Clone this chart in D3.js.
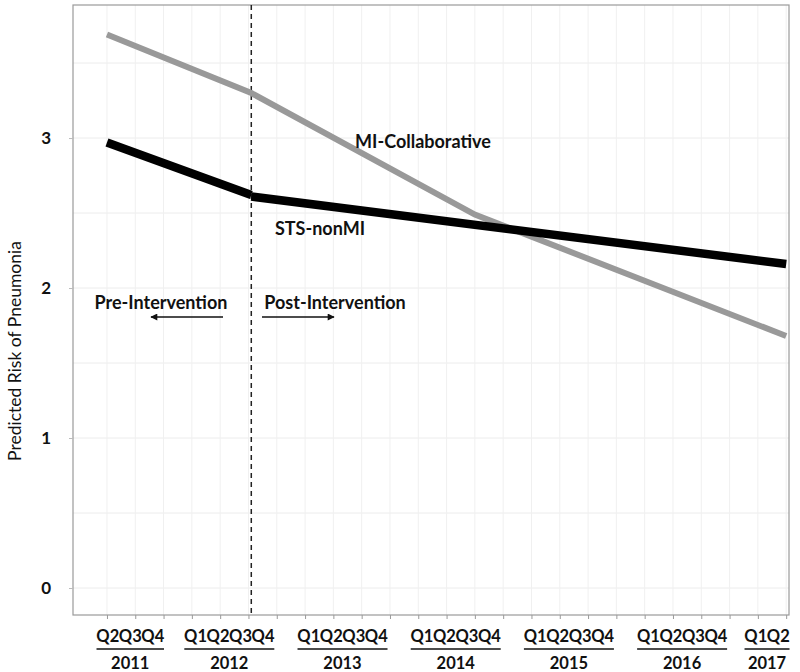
<!DOCTYPE html>
<html>
<head>
<meta charset="utf-8">
<script src="https://cdn.jsdelivr.net/npm/d3@7"></script>
<style>
  html, body { margin: 0; padding: 0; background: #fff; }
  svg { display: block; font-family: Lato, "Open Sans", sans-serif; }
</style>
</head>
<body>
<svg id="chart" width="800" height="672"></svg>
<script>
// ---- data ----
const years = ["2011", "2012", "2013", "2014", "2015", "2016", "2017"];
const yearQuarters = [
  ["Q2", "Q3", "Q4"],
  ["Q1", "Q2", "Q3", "Q4"],
  ["Q1", "Q2", "Q3", "Q4"],
  ["Q1", "Q2", "Q3", "Q4"],
  ["Q1", "Q2", "Q3", "Q4"],
  ["Q1", "Q2", "Q3", "Q4"],
  ["Q1", "Q2"]
];
const yTicks = [0, 1, 2, 3];
const yGrid = [0, 0.5, 1, 1.5, 2, 2.5, 3, 3.5];
// quarter index: 0 = 2011 Q2
const interventionAt = 5.1;
const miCollabX = [0, 5.1, 13, 24];
const miCollabY = [3.69, 3.30, 2.49, 1.68];
const stsPreX = [0, 5.1];
const stsPreY = [2.97, 2.62];
const stsPostX = [5.1, 24];
const stsPostY = [2.61, 2.16];
const seriesNames = ["MI-Collaborative", "STS-nonMI"];
const phaseNames = ["Pre-Intervention", "Post-Intervention"];
const yTitle = "Predicted Risk of Pneumonia";

// ---- layout ----
const svg = d3.select("#chart");
const L = 73, R = 789, T = 5, B = 615;
const x = d3.scaleLinear().domain([-1.2, 24.1]).range([L, R]);
const y = d3.scaleLinear().domain([-0.18, 3.887]).range([B, T]);
const nQuarters = d3.sum(yearQuarters, q => q.length);
const quarterIdx = d3.range(nQuarters);
const labelFont = 18;

svg.append("rect").attr("width", 800).attr("height", 672).attr("fill", "#fff");

// grid
svg.append("g").selectAll("line").data(yGrid).join("line")
  .attr("x1", L).attr("x2", R).attr("y1", d => y(d)).attr("y2", d => y(d))
  .attr("stroke", "#ececec").attr("stroke-width", 1);
svg.append("g").selectAll("line").data(quarterIdx).join("line")
  .attr("x1", d => x(d)).attr("x2", d => x(d)).attr("y1", T).attr("y2", B)
  .attr("stroke", "#f0f0f0").attr("stroke-width", 1);

// frame
svg.append("rect").attr("x", L).attr("y", T).attr("width", R - L).attr("height", B - T)
  .attr("fill", "none").attr("stroke", "#9a9a9a").attr("stroke-width", 1.2);

// axes ticks
const xAxis = d3.axisBottom(x).tickValues(quarterIdx).tickSize(4).tickFormat("");
const gx = svg.append("g").attr("transform", `translate(0,${B})`).call(xAxis);
gx.select(".domain").remove();
gx.selectAll(".tick line").attr("stroke", "#999");

const yAxis = d3.axisLeft(y).tickValues(yTicks).tickSize(4).tickFormat(d3.format("d")).tickPadding(18);
const gy = svg.append("g").attr("transform", `translate(${L},0)`).call(yAxis);
gy.select(".domain").remove();
gy.selectAll(".tick line").attr("stroke", "#bbb");
gy.selectAll(".tick text").attr("font-family", "Lato, sans-serif").attr("font-size", 17)
  .attr("font-weight", "bold").attr("fill", "#111");

// y title
svg.append("text")
  .attr("transform", `translate(21,${y(1.58)}) rotate(-90)`)
  .attr("text-anchor", "middle").attr("font-size", 17.5).attr("fill", "#111")
  .text(yTitle);

// x labels grouped by year
let start = 0;
const qSpacing = 22.5;
years.forEach((yr, i) => {
  const qs = yearQuarters[i];
  const cx = x(start + (qs.length - 1) / 2) - 5;
  const g = svg.append("g");
  g.selectAll("text").data(qs).join("text")
    .attr("x", (d, j) => cx + (j - (qs.length - 1) / 2) * qSpacing)
    .attr("y", 642).attr("text-anchor", "middle")
    .attr("font-size", 16.5).attr("font-weight", "bold").attr("fill", "#111")
    .text(d => d);
  const w = qs.length * qSpacing;
  g.append("line").attr("x1", cx - w / 2).attr("x2", cx + w / 2)
    .attr("y1", 649).attr("y2", 649).attr("stroke", "#111").attr("stroke-width", 1.5);
  g.append("text").attr("x", cx).attr("y", 669).attr("text-anchor", "middle")
    .attr("font-size", 16.5).attr("font-weight", "bold").attr("fill", "#111").text(yr);
  start += qs.length;
});

// intervention line
svg.append("line").attr("x1", x(interventionAt)).attr("x2", x(interventionAt))
  .attr("y1", T).attr("y2", B).attr("stroke", "#222").attr("stroke-width", 1.5)
  .attr("stroke-dasharray", "5,4");

// series lines
const line = d3.line().x(d => x(d[0])).y(d => y(d[1]));
svg.append("path").datum(d3.zip(miCollabX, miCollabY)).attr("d", line)
  .attr("fill", "none").attr("stroke", "#999").attr("stroke-width", 6);
svg.append("path").datum(d3.zip(stsPreX, stsPreY)).attr("d", line)
  .attr("fill", "none").attr("stroke", "#000").attr("stroke-width", 8.5);
svg.append("path").datum(d3.zip(stsPostX, stsPostY)).attr("d", line)
  .attr("fill", "none").attr("stroke", "#000").attr("stroke-width", 8.5);

// series labels
svg.append("text").attr("x", 423).attr("y", 148).attr("text-anchor", "middle")
  .attr("font-size", labelFont).attr("font-weight", "bold").attr("fill", "#111").text(seriesNames[0]);
svg.append("text").attr("x", 320).attr("y", 235).attr("text-anchor", "middle")
  .attr("font-size", labelFont).attr("font-weight", "bold").attr("fill", "#111").text(seriesNames[1]);

// phase labels & arrows
svg.append("defs").append("marker").attr("id", "ah").attr("viewBox", "0 0 10 10")
  .attr("refX", 9).attr("refY", 5).attr("markerWidth", 9).attr("markerHeight", 7)
  .attr("markerUnits", "userSpaceOnUse").attr("orient", "auto")
  .append("path").attr("d", "M0,0 L10,5 L0,10 Z").attr("fill", "#111");
svg.append("text").attr("x", 161).attr("y", 309).attr("text-anchor", "middle")
  .attr("font-size", labelFont).attr("font-weight", "bold").attr("fill", "#111").text(phaseNames[0]);
svg.append("text").attr("x", 335).attr("y", 309).attr("text-anchor", "middle")
  .attr("font-size", labelFont).attr("font-weight", "bold").attr("fill", "#111").text(phaseNames[1]);
svg.append("line").attr("x1", 223).attr("x2", 151).attr("y1", 317).attr("y2", 317)
  .attr("stroke", "#111").attr("stroke-width", 1.5).attr("marker-end", "url(#ah)");
svg.append("line").attr("x1", 262).attr("x2", 334).attr("y1", 317).attr("y2", 317)
  .attr("stroke", "#111").attr("stroke-width", 1.5).attr("marker-end", "url(#ah)");
</script>
</body>
</html>
